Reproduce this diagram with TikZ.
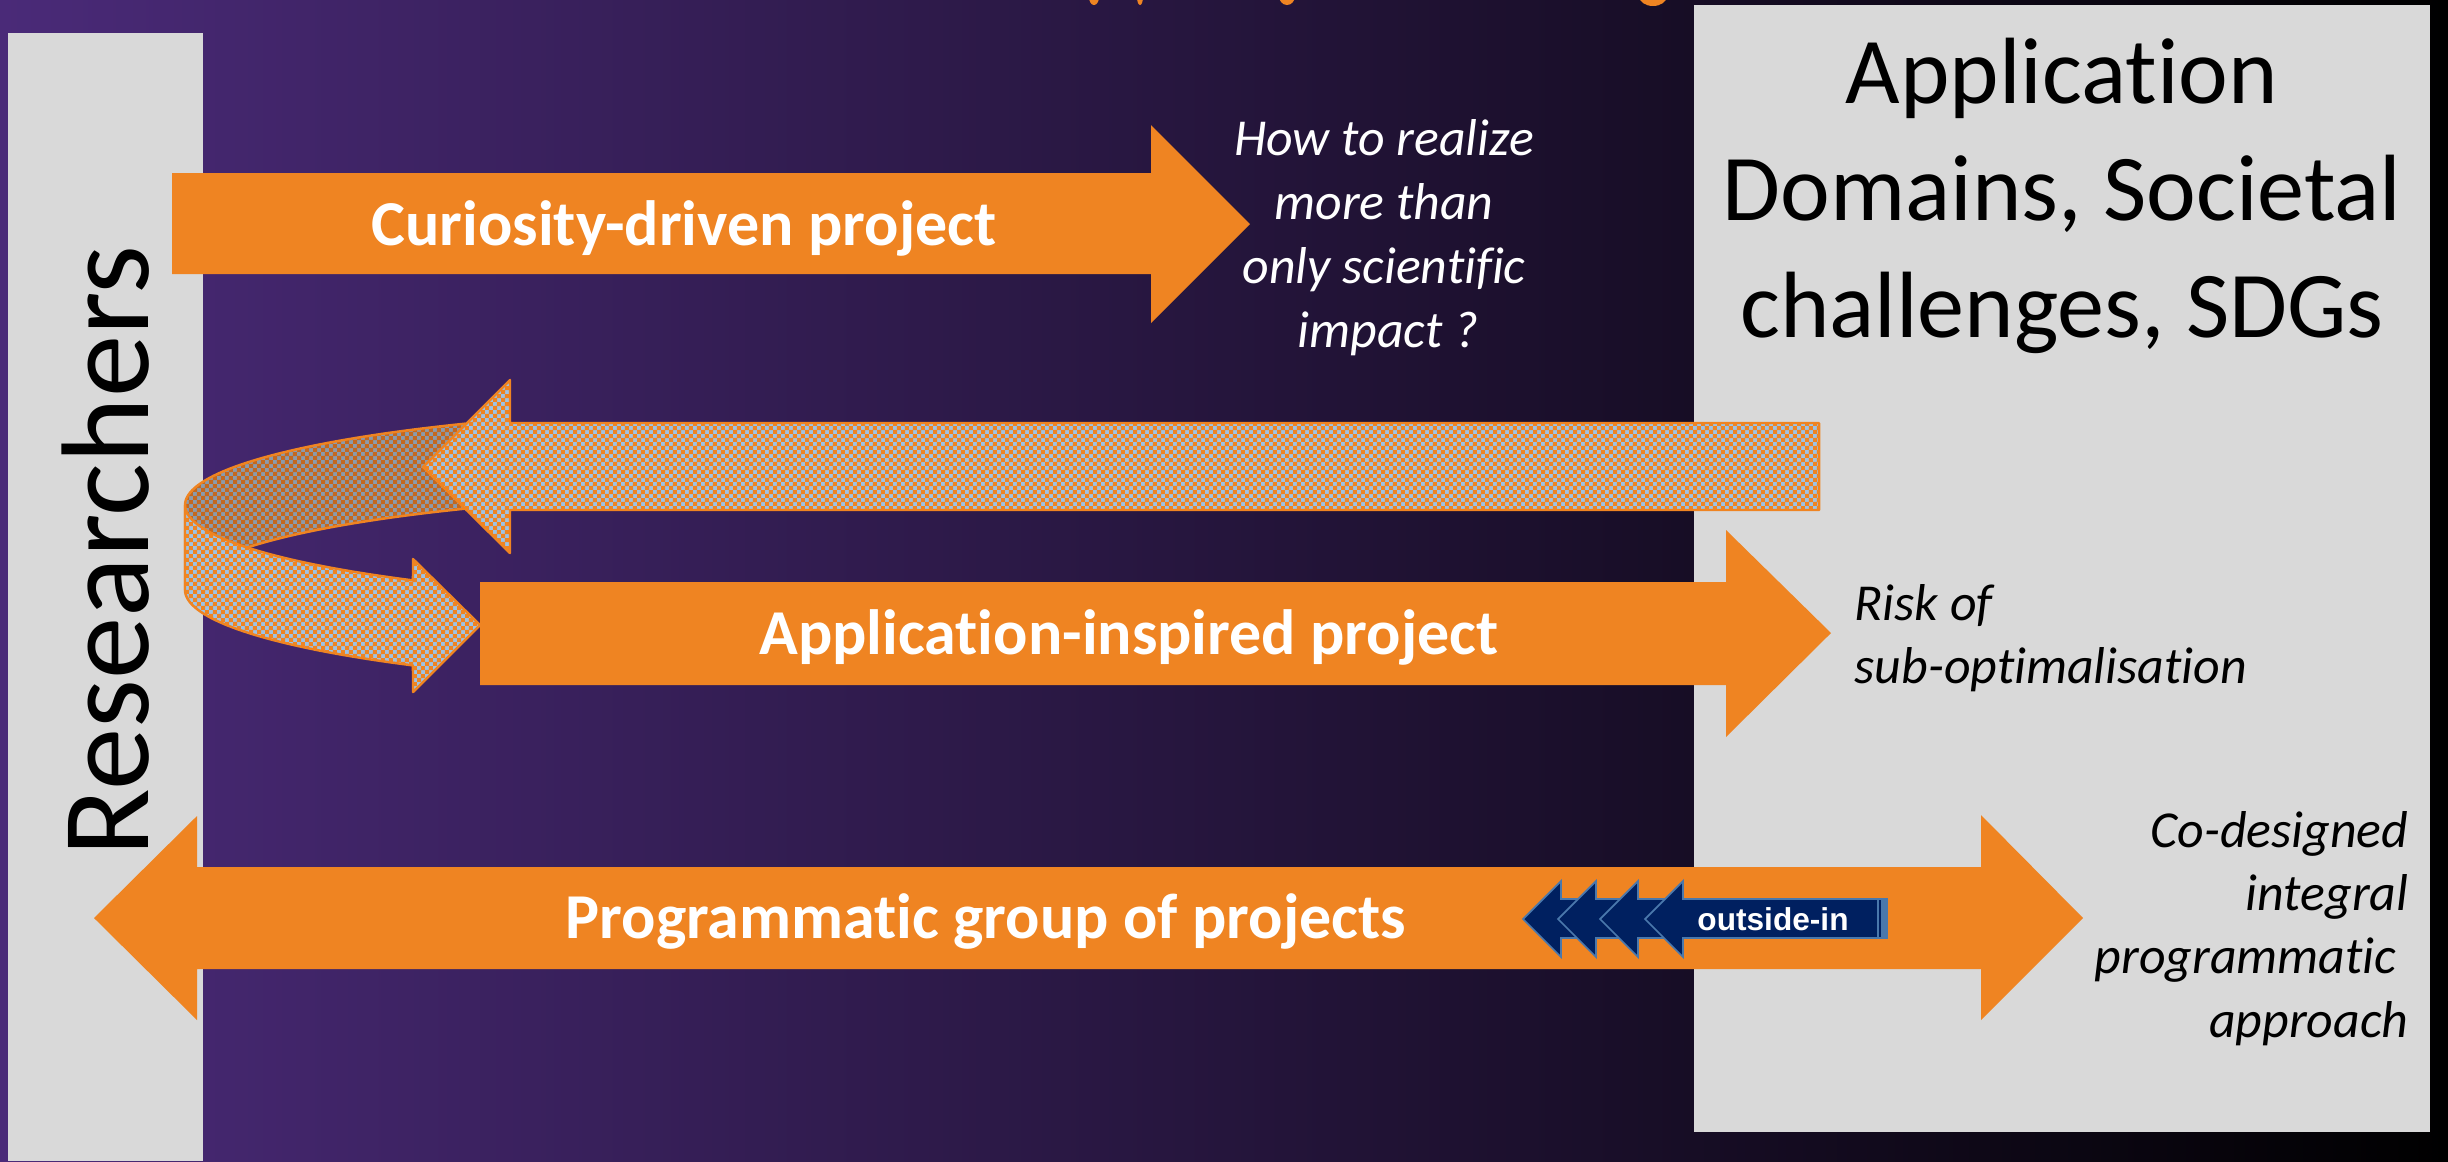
\documentclass[tikz,border=0pt]{standalone}
\usepackage{fontspec}
\setmainfont{Carlito}[Ligatures={NoCommon,NoRare,NoContextual}]
\newfontfamily\arialfont{Liberation Sans}
\usetikzlibrary{patterns.meta}

\definecolor{bgL}{HTML}{4A2A78}
\definecolor{boxgray}{HTML}{D9D9D9}
\definecolor{orng}{HTML}{EF8422}
\definecolor{ltblue}{HTML}{9DC3E6}
\definecolor{dkblue}{HTML}{8A9BAD}
\definecolor{dkorng}{HTML}{C4681F}
\definecolor{navy}{HTML}{002060}
\definecolor{steel}{HTML}{4A78AC}

\tikzdeclarepattern{
  name=finecheck,
  type=uncolored,
  bottom left={(0pt,0pt)},
  top right={(2.4pt,2.4pt)},
  tile size={(2.4pt,2.4pt)},
  code={
    \fill (0pt,0pt) rectangle (1.25pt,1.25pt);
    \fill (1.2pt,1.2pt) rectangle (2.4pt,2.4pt);
  }
}

\tikzset{
  solidarrow/.style={fill=orng},
  hatcharrow/.style={draw=orng, line width=0.7pt, line join=round,
    preaction={fill=ltblue}, pattern={finecheck}, pattern color=orng},
  backband/.style={draw=orng, line width=0.7pt, line join=round,
    preaction={fill=dkblue}, pattern={finecheck}, pattern color=dkorng},
  graybox/.style={fill=boxgray},
  boldlabel/.style={text=white, font=\bfseries\fontsize{18.2pt}{22pt}\selectfont, anchor=base, inner sep=0pt},
  notewhite/.style={text=white, font=\itshape\fontsize{14.75pt}{18pt}\selectfont, anchor=base, inner sep=0pt},
  noteblack/.style={text=black, font=\itshape\fontsize{14.75pt}{18pt}\selectfont, inner sep=0pt},
  domainline/.style={text=black, font=\fontsize{26.8pt}{33pt}\selectfont, anchor=base, inner sep=0pt},
  navyarrow/.style={fill=navy, draw=steel, line width=0.5pt, line join=miter},
}

\begin{document}
\begin{tikzpicture}[x=0.1mm, y=-0.1mm]
\useasboundingbox (0,0) rectangle (2448,1161);
% background
\shade[left color=bgL, right color=black] (0,0) rectangle (2448,1161);

% cut-off title fragments
\begin{scope}
\clip (0,0) rectangle (2448,1161);
\fill[orng] (1094,-3) ellipse [x radius=5, y radius=8];
\fill[orng] (1140,-3) ellipse [x radius=3, y radius=8];
\fill[orng] (1287,-4) ellipse [x radius=8, y radius=9];
\fill[orng] (1653,-4) ellipse [x radius=14, y radius=10];
\end{scope}

% grey boxes
\fill[graybox] (8,33) rectangle (203,1161);
\fill[graybox] (1694,5) rectangle (2430,1132);

\node[rotate=90, anchor=base, inner sep=0pt, font=\fontsize{35.5pt}{42pt}\selectfont] (res) at (148,551) {Researchers};

\node[domainline] (dom1) at (2062,103) {Application};
\node[domainline] (dom2) at (2062,220) {Domains, Societal};
\node[domainline] (dom3) at (2062,337) {challenges, SDGs};

% curiosity-driven arrow
\fill[solidarrow] (172,173) -- (1151,173) -- (1151,125) -- (1250,224) -- (1151,323) -- (1151,274) -- (172,274) -- cycle;
\node[boldlabel] (cur) at (684,245) {Curiosity-driven project};

\node[notewhite] (q1) at (1384,155) {How to realize};
\node[notewhite] (q2) at (1384,219) {more than};
\node[notewhite] (q3) at (1384,283) {only scientific};
\node[notewhite] (q4) at (1388,347) {impact ?};

% circular feedback ribbon (back part)
\draw[backband] plot[domain=123:180, samples=40] ({800+615*cos(\x)},{505-97*sin(\x)})
  -- plot[domain=180:123, samples=40] ({800+615*cos(\x)},{590-97*sin(\x)}) -- cycle;
% return arrow from application domains
\draw[hatcharrow] (1819,423) -- (510,423) -- (510,380) -- (423,467) -- (510,553) -- (510,510) -- (1819,510) -- cycle;
% circular feedback ribbon (front part)
\draw[hatcharrow] plot[domain=180:231, samples=40] ({800+615*cos(\x)},{505-97*sin(\x)})
  -- (413,559) -- (480,625) -- (413,692)
  -- plot[domain=231:180, samples=40] ({800+615*cos(\x)},{590-97*sin(\x)}) -- cycle;

% application-inspired arrow
\fill[solidarrow] (480,582) -- (1726,582) -- (1726,530) -- (1831,633) -- (1726,737) -- (1726,685) -- (480,685) -- cycle;
\node[boldlabel] (app) at (1129,654) {Application-inspired project};

\node[noteblack, anchor=base west] (r1) at (1854,620) {Risk of};
\node[noteblack, anchor=base west] (r2) at (1854,683) {sub-optimalisation};

% programmatic double arrow
\fill[solidarrow] (94,918) -- (197,816) -- (197,867) -- (1981,867) -- (1981,815) -- (2083,918)
  -- (1981,1020) -- (1981,969) -- (197,969) -- (197,1020) -- cycle;
\node[boldlabel] (prog) at (986,938) {Programmatic group of projects};

% outside-in arrows
\foreach \t in {1523,1558,1600,1645}{
  \draw[navyarrow] (\t,919) -- (\t+38,881) -- (\t+38,899) -- (1887,899) -- (1887,938) -- (\t+38,938) -- (\t+38,957) -- cycle;
}
\fill[steel] (1877,899) rectangle (1887,938);
\draw[navy, line width=0.5pt] (1880,900) -- (1880,937);
\node[text=white, font=\arialfont\bfseries\fontsize{9pt}{11pt}\selectfont, anchor=base, inner sep=0pt] (oi) at (1773,930) {outside-in};

\node[noteblack, anchor=base east] (c1) at (2409,847) {Co-designed};
\node[noteblack, anchor=base east] (c2) at (2409,910) {integral};
\node[noteblack, anchor=base east] (c3) at (2397,973) {programmatic};
\node[noteblack, anchor=base east] (c4) at (2409,1037) {approach};
\end{tikzpicture}
\end{document}
